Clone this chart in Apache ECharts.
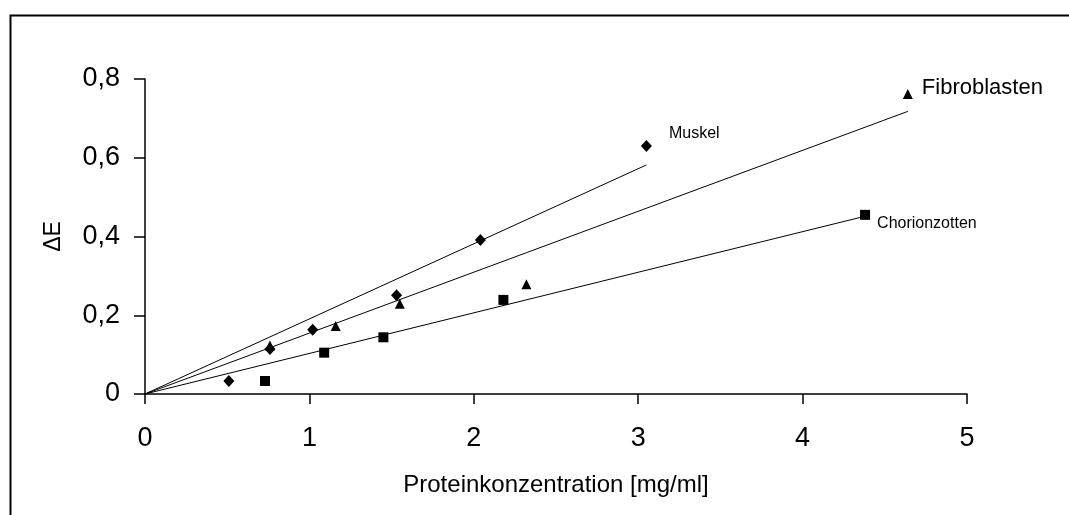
<!DOCTYPE html>
<html>
<head>
<meta charset="utf-8">
<script src="https://cdn.jsdelivr.net/npm/echarts@6/dist/echarts.min.js"></script>
<style>
  html, body { margin: 0; padding: 0; background: #fff; }
  #chart { width: 1069px; height: 515px; }
</style>
</head>
<body>
<div id="chart"></div>
<script>
// Measured points: [protein concentration mg/ml, ΔE]
const muskelX = [0.51, 0.76, 1.02, 1.53, 2.04, 3.05];
const muskelY = [0.033, 0.114, 0.163, 0.251, 0.391, 0.630];
const fibroX = [0.76, 1.16, 1.55, 2.32, 4.64];
const fibroY = [0.123, 0.173, 0.229, 0.279, 0.762];
const chorionX = [0.73, 1.09, 1.45, 2.18, 4.38];
const chorionY = [0.033, 0.105, 0.144, 0.239, 0.455];

const seriesNames = ['Muskel', 'Fibroblasten', 'Chorionzotten'];
const xTicks = [0, 1, 2, 3, 4, 5];
const yTicks = [0, 0.2, 0.4, 0.6, 0.8];

const FONT = '"Liberation Sans", Arial, sans-serif';

function pairs(xs, ys) { return xs.map((x, i) => [x, ys[i]]); }

// Least-squares line forced through the origin, drawn from 0 to the last x
function originFit(xs, ys) {
  let sxy = 0, sxx = 0;
  xs.forEach((x, i) => { sxy += x * ys[i]; sxx += x * x; });
  const k = sxy / sxx;
  const xMax = Math.max(...xs);
  return [[0, 0], [xMax, k * xMax]];
}

function scatter(name, xs, ys, symbol, size, labelStyle) {
  const pts = pairs(xs, ys);
  const last = pts.length - 1;
  return {
    type: 'scatter',
    name: name,
    symbol: symbol,
    symbolSize: size,
    itemStyle: { color: '#000', opacity: 1 },
    data: pts.map((p, i) => i === last ? {
      value: p,
      label: Object.assign({
        show: true,
        formatter: name,
        color: '#000',
        fontFamily: FONT
      }, labelStyle)
    } : p),
    z: 3
  };
}

function trend(xs, ys) {
  return {
    type: 'line',
    data: originFit(xs, ys),
    symbol: 'none',
    lineStyle: { color: '#000', width: 1 },
    silent: true,
    z: 2
  };
}

const chart = echarts.init(document.getElementById('chart'), null, { renderer: 'canvas' });

chart.setOption({
  animation: false,
  backgroundColor: '#fff',
  graphic: [{
    type: 'rect',
    left: 8, top: 13,
    shape: { width: 1100, height: 600 },
    style: { fill: 'none', stroke: '#000', lineWidth: 2 },
    silent: true
  }],
  grid: { left: 145, top: 79, right: 102, bottom: 121 },
  xAxis: {
    type: 'value',
    min: xTicks[0], max: xTicks[xTicks.length - 1], interval: 1,
    name: 'Proteinkonzentration [mg/ml]',
    nameLocation: 'middle',
    nameGap: 79,
    nameTextStyle: { fontFamily: FONT, fontSize: 24, color: '#000' },
    axisLine: { lineStyle: { color: '#000', width: 1.5 } },
    axisTick: { show: true, length: 10, lineStyle: { color: '#000', width: 1.5 } },
    axisLabel: { fontFamily: FONT, fontSize: 27, color: '#000', margin: 31 },
    splitLine: { show: false }
  },
  yAxis: {
    type: 'value',
    min: yTicks[0], max: yTicks[yTicks.length - 1], interval: 0.2,
    name: 'ΔE',
    nameLocation: 'middle',
    nameRotate: 90,
    nameGap: 80,
    nameTextStyle: { fontFamily: FONT, fontSize: 23, color: '#000' },
    axisLine: { show: true, lineStyle: { color: '#000', width: 1.5 } },
    axisTick: { show: true, length: 11, lineStyle: { color: '#000', width: 1.5 } },
    axisLabel: {
      fontFamily: FONT, fontSize: 27, color: '#000', margin: 25,
      formatter: v => v === 0 ? '0' : v.toFixed(1).replace('.', ',')
    },
    splitLine: { show: false }
  },
  series: [
    trend(muskelX, muskelY),
    trend(fibroX, fibroY),
    trend(chorionX, chorionY),
    scatter(seriesNames[0], muskelX, muskelY, 'diamond', [11, 12],
      { position: 'right', fontSize: 16, offset: [12, -12] }),
    scatter(seriesNames[1], fibroX, fibroY, 'triangle', [10, 10],
      { position: 'right', fontSize: 22, offset: [4, -6] }),
    scatter(seriesNames[2], chorionX, chorionY, 'rect', [10, 10],
      { position: 'right', fontSize: 16, offset: [2, 9] })
  ]
});
</script>
</body>
</html>
